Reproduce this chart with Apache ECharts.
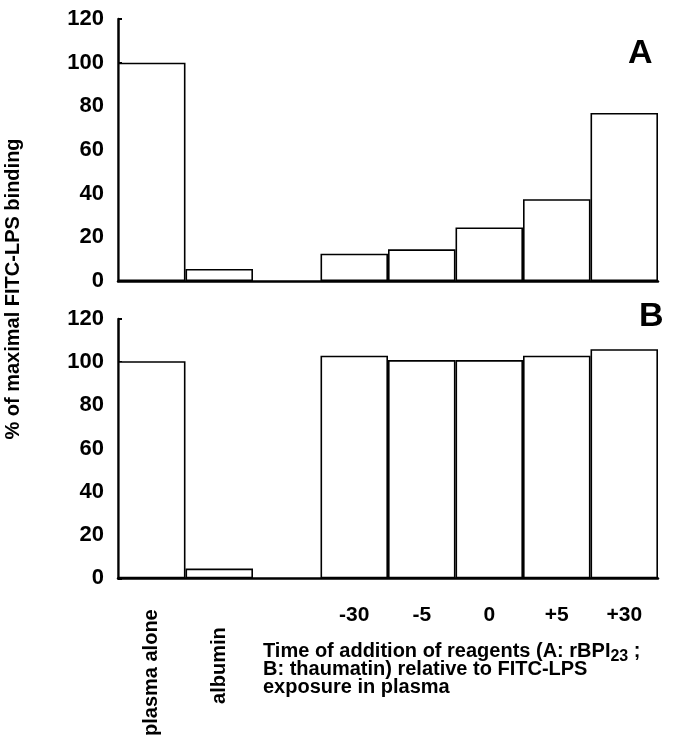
<!DOCTYPE html>
<html>
<head>
<meta charset="utf-8">
<script src="https://cdn.jsdelivr.net/npm/echarts@6/dist/echarts.min.js"></script>
<style>
    html, body { margin: 0; padding: 0; background: #fff; }
    #chart { width: 684px; height: 739px; }
</style>
</head>
<body>
<div id="chart"></div>
<script>
// slots along the bottom; the empty one is the gap between controls and time points
var categories = ['plasma alone', 'albumin', '', '-30', '-5', '0', '+5', '+30'];
var rotatedCats = ['plasma alone', 'albumin'];
// % of maximal FITC-LPS binding
var valuesA = [100, 5.5, '-', 12.5, 14.5, 24.5, 37.5, 77];   // rBPI23
var valuesB = [100.5, 4.5, '-', 103, 101, 101, 103, 106];    // thaumatin
var yMin = 0, yMax = 120, yStep = 20;
var panelNames = ['A', 'B'];
var titleLines = [
    'Time of addition of reagents (A: rBPI{sub|23} ;',
    'B: thaumatin) relative to FITC-LPS',
    'exposure in plasma'
];

var FONT = 'Liberation Sans, Arial, sans-serif';

function yAxisFor(idx) {
    return {
        type: 'value',
        gridIndex: idx,
        min: yMin,
        max: yMax,
        interval: yStep,
        splitLine: { show: false },
        axisLine: { show: true, lineStyle: { color: '#000', width: 2.5 } },
        axisTick: { show: true, inside: true, length: 4, lineStyle: { color: '#000', width: 2 } },
        axisLabel: { color: '#000', fontFamily: FONT, fontWeight: 'bold', fontSize: 22, margin: 14 }
    };
}

function barSeries(idx, data) {
    return {
        type: 'bar',
        xAxisIndex: idx,
        yAxisIndex: idx,
        data: data,
        barWidth: '100%',
        barCategoryGap: 0,
        silent: true,
        itemStyle: { color: '#fff', borderColor: '#000', borderWidth: 1.6 }
    };
}

var chart = echarts.init(document.getElementById('chart'), null, { renderer: 'canvas' });

var option = {
    backgroundColor: '#fff',
    animation: false,
    grid: [
        { left: 118, right: 26, top: 19, height: 262 },
        { left: 118, right: 26, top: 319, height: 260 }
    ],
    xAxis: [
        {
            type: 'category', gridIndex: 0, data: categories, position: 'bottom',
            axisLine: { show: true, lineStyle: { color: '#000', width: 2.5 } },
            axisTick: { show: false },
            axisLabel: { show: false }
        },
        {
            type: 'category', gridIndex: 1, data: categories, position: 'bottom',
            axisLine: { show: true, lineStyle: { color: '#000', width: 2.5 } },
            axisTick: { show: false },
            axisLabel: {
                interval: 0,
                color: '#000', fontFamily: FONT, fontWeight: 'bold', fontSize: 21, margin: 26,
                formatter: function (v) { return rotatedCats.indexOf(v) >= 0 ? '' : v; }
            }
        },
        {
            // rotated labels for the two control bars
            type: 'category', gridIndex: 1, data: categories, position: 'bottom', offset: 0,
            axisLine: { show: false },
            axisTick: { show: false },
            axisLabel: {
                interval: 0, rotate: 90, margin: 31,
                color: '#000', fontFamily: FONT, fontWeight: 'bold', fontSize: 20,
                formatter: function (v) {
                    if (v === 'plasma alone') return '{p|' + v + '}';
                    if (v === 'albumin') return '{q|' + v + '}';
                    return '';
                },
                rich: {
                    p: { fontFamily: FONT, fontWeight: 'bold', fontSize: 20, color: '#000' },
                    q: { fontFamily: FONT, fontWeight: 'bold', fontSize: 20, color: '#000', padding: [0, 18, 0, 0] }
                }
            }
        }
    ],
    yAxis: [yAxisFor(0), yAxisFor(1)],
    series: [barSeries(0, valuesA), barSeries(1, valuesB)],
    graphic: [
        {
            type: 'text', left: 628, top: 37,
            style: { text: panelNames[0], font: 'bold 34px ' + FONT, fill: '#000' }
        },
        {
            type: 'text', left: 639, top: 300,
            style: { text: panelNames[1], font: 'bold 34px ' + FONT, fill: '#000' }
        },
        {
            type: 'text', x: 13, y: 289, rotation: Math.PI / 2,
            style: {
                text: '% of maximal FITC-LPS binding',
                font: 'bold 20px ' + FONT, fill: '#000',
                align: 'center', verticalAlign: 'middle'
            }
        },
        {
            type: 'text', left: 263, top: 637,
            style: {
                text: titleLines.join('\n'),
                font: 'bold 20px ' + FONT, fill: '#000',
                lineHeight: 18,
                rich: {
                    sub: { font: 'bold 16px ' + FONT, fill: '#000', padding: [12, 0, 0, 0], lineHeight: 18 }
                }
            }
        }
    ]
};

chart.setOption(option);
</script>
</body>
</html>
